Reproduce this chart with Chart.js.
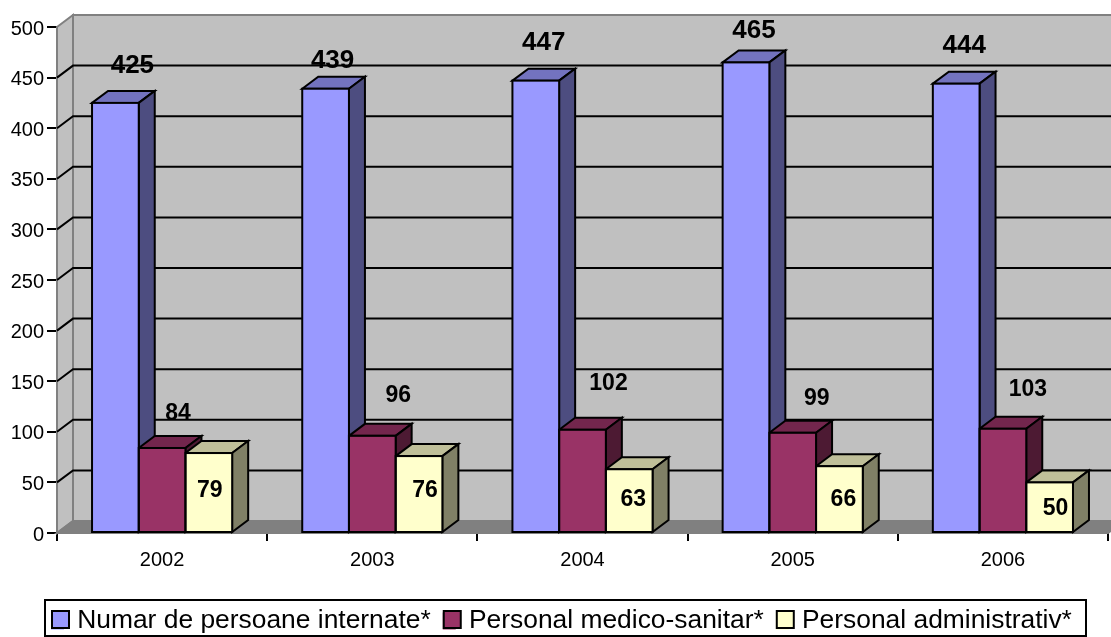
<!DOCTYPE html>
<html>
<head>
<meta charset="utf-8">
<title>Chart</title>
<script src="https://cdn.jsdelivr.net/npm/chart.js@4"></script>
<style>
html, body { margin: 0; padding: 0; background: #fff; overflow: hidden; }
canvas { display: block; }
</style>
</head>
<body>
<canvas id="chart" width="1111" height="637"></canvas>
<script>
var years = ["2002", "2003", "2004", "2005", "2006"];
var internate = [425, 439, 447, 465, 444];
var medico = [84, 96, 102, 99, 103];
var administrativ = [79, 76, 63, 66, 50];

var frontColors = ["#9999ff", "#993366", "#ffffcc"];
var topColors = ["#7373bf", "#73264d", "#bfbf99"];
var sideColors = ["#4d4d80", "#4d1a33", "#808066"];

// hand placed data labels, offset from the top centre of each bar
var labelNudge = [
    [[17, -37], [7, -28], [8, -38], [8, -32], [8, -38]],
    [[16, -34], [26, -40], [26, -46], [24, -34], [25, -39]],
    [[1, 38], [6, 35], [4, 30], [4, 33], [6, 26]]
];
var labelFontSize = [26, 23, 23];

var FONT = '"Liberation Sans", Arial, sans-serif';
var WALL_DX = 16, WALL_DY = 12;   // back wall offset
var BAR_DX = 16, BAR_DY = 12;     // bar depth

function poly(ctx, pts, fill, stroke) {
    ctx.beginPath();
    ctx.moveTo(pts[0][0], pts[0][1]);
    for (var i = 1; i < pts.length; i++) ctx.lineTo(pts[i][0], pts[i][1]);
    ctx.closePath();
    if (fill) { ctx.fillStyle = fill; ctx.fill(); }
    if (stroke) { ctx.strokeStyle = stroke; ctx.lineWidth = 2; ctx.stroke(); }
}

var box3d = {
    id: 'box3d',
    afterLayout: function(chart) {
        // legend sits in a fixed box under the axis
        var legend = chart.legend;
        legend.left = 51 - legend.options.labels.padding;
        legend.top = 620 - legend.height / 2;
    },
    beforeDatasetsDraw: function(chart) {
        var ctx = chart.ctx, area = chart.chartArea;
        var y = chart.scales.y;
        var l = area.left, r = area.right, t = area.top, b = area.bottom;
        ctx.save();
        // walls and floor
        poly(ctx, [[l + WALL_DX, t - WALL_DY], [r + WALL_DX, t - WALL_DY], [r + WALL_DX, b - WALL_DY], [l + WALL_DX, b - WALL_DY]], '#c0c0c0', '#808080');
        poly(ctx, [[l, t], [l + WALL_DX, t - WALL_DY], [l + WALL_DX, b - WALL_DY], [l, b]], '#c0c0c0', '#808080');
        poly(ctx, [[l, b], [l + WALL_DX, b - WALL_DY], [r + WALL_DX, b - WALL_DY], [r, b]], '#808080', '#808080');
        // gridlines run along the left wall and then the back wall
        ctx.strokeStyle = '#000';
        ctx.lineWidth = 2;
        y.ticks.forEach(function(tick) {
            if (tick.value === 0 || tick.value === 500) return;
            var py = y.getPixelForValue(tick.value);
            ctx.beginPath();
            ctx.moveTo(l, py);
            ctx.lineTo(l + WALL_DX, py - WALL_DY);
            ctx.lineTo(r + WALL_DX, py - WALL_DY);
            ctx.stroke();
        });
        // top and side faces, left to right, fronts come after from the library
        chart.data.datasets.forEach(function(ds, i) {
            chart.getDatasetMeta(i).data.forEach(function(bar) {
                var x0 = bar.x - bar.width / 2, x1 = bar.x + bar.width / 2;
                poly(ctx, [[x0, bar.y], [x0 + BAR_DX, bar.y - BAR_DY], [x1 + BAR_DX, bar.y - BAR_DY], [x1, bar.y]], topColors[i], '#000');
                poly(ctx, [[x1, bar.y], [x1 + BAR_DX, bar.y - BAR_DY], [x1 + BAR_DX, bar.base - BAR_DY], [x1, bar.base]], sideColors[i], '#000');
            });
        });
        ctx.restore();
    },
    afterDatasetsDraw: function(chart) {
        var ctx = chart.ctx;
        ctx.save();
        ctx.strokeStyle = '#000';
        ctx.lineWidth = 2;
        chart.data.datasets.forEach(function(ds, i) {
            chart.getDatasetMeta(i).data.forEach(function(bar) {
                ctx.strokeRect(bar.x - bar.width / 2, bar.y, bar.width, bar.base - bar.y);
            });
        });
        ctx.fillStyle = '#000';
        ctx.textAlign = 'center';
        ctx.textBaseline = 'middle';
        chart.data.datasets.forEach(function(ds, i) {
            ctx.font = 'bold ' + labelFontSize[i] + 'px ' + FONT;
            chart.getDatasetMeta(i).data.forEach(function(bar, j) {
                ctx.fillText(ds.data[j], bar.x + labelNudge[i][j][0], bar.y + labelNudge[i][j][1]);
            });
        });
        ctx.restore();
    },
    afterDraw: function(chart) {
        var ctx = chart.ctx;
        ctx.save();
        ctx.strokeStyle = '#000';
        ctx.lineWidth = 2;
        ctx.strokeRect(45, 600, 1041, 36);
        // wider legend swatches than the label spacing allows
        chart.legend.legendHitBoxes.forEach(function(box, i) {
            ctx.fillStyle = frontColors[i];
            ctx.fillRect(box.left + 1, 611, 17, 17);
            ctx.strokeRect(box.left + 1, 611, 17, 17);
        });
        ctx.restore();
    }
};

new Chart(document.getElementById("chart").getContext("2d"), {
    type: 'bar',
    data: {
        labels: years,
        datasets: [
            { label: "Numar de persoane internate*", data: internate, backgroundColor: frontColors[0] },
            { label: "Personal medico-sanitar*", data: medico, backgroundColor: frontColors[1] },
            { label: "Personal administrativ*", data: administrativ, backgroundColor: frontColors[2] }
        ]
    },
    plugins: [box3d],
    options: {
        responsive: false,
        animation: false,
        borderWidth: 0,
        categoryPercentage: 2 / 3,
        barPercentage: 1,
        layout: { padding: { top: 27, right: 3 } },
        font: { family: FONT },
        plugins: {
            tooltip: { enabled: false },
            title: { display: false },
            legend: {
                position: 'bottom',
                align: 'start',
                labels: {
                    boxWidth: 13,
                    boxHeight: 17,
                    padding: 12,
                    color: '#000',
                    font: { family: FONT, size: 26.4 }
                }
            }
        },
        scales: {
            x: {
                afterFit: function(scale) {
                    scale.height = 104 - scale.chart.legend.height;
                },
                grid: { drawOnChartArea: false, drawTicks: true, tickLength: 8, color: '#000', lineWidth: 2 },
                border: { color: '#000', width: 2 },
                ticks: { color: '#000', padding: 7, maxRotation: 0, font: { family: FONT, size: 20 } }
            },
            y: {
                min: 0,
                max: 500,
                afterFit: function(scale) { scale.width = 57; },
                grid: { drawOnChartArea: false, drawTicks: true, tickLength: 10, color: '#000', lineWidth: 2 },
                border: { color: '#000', width: 2 },
                ticks: { stepSize: 50, color: '#000', padding: 3, labelOffset: 2, font: { family: FONT, size: 20 } }
            }
        }
    }
});
</script>
</body>
</html>
